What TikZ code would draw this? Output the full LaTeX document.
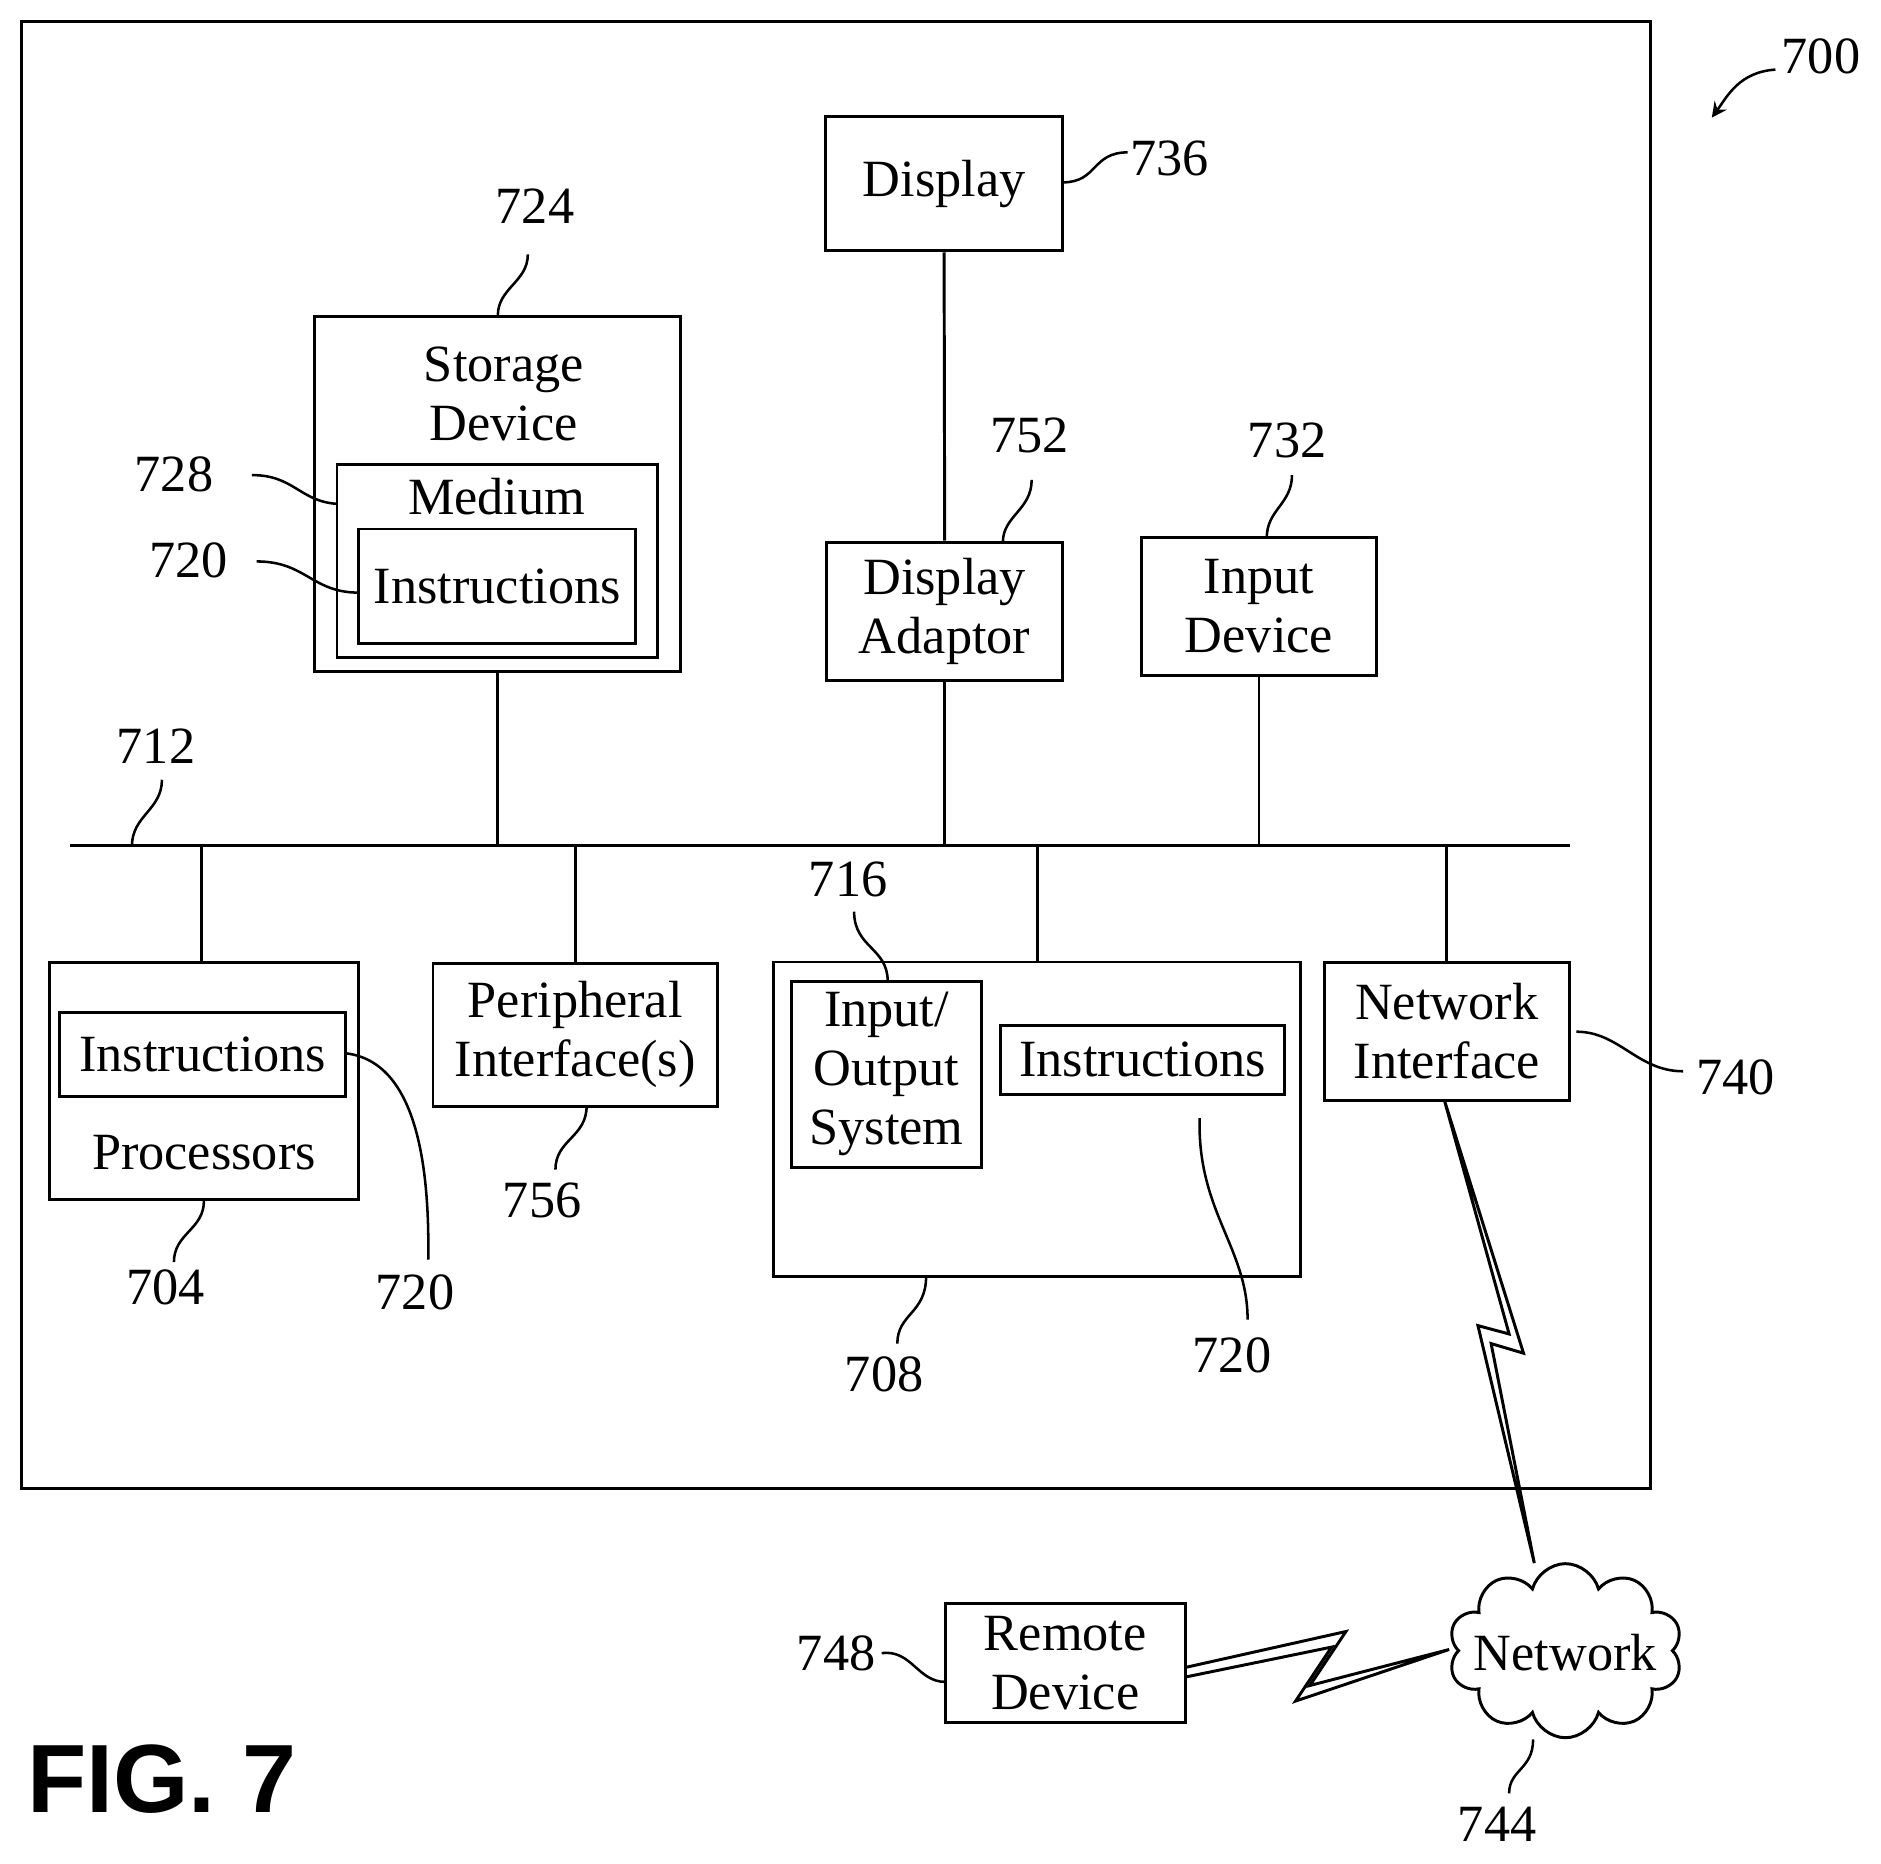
\documentclass[tikz,border=0pt]{standalone}
\usepackage{fontspec}
\setmainfont{Liberation Serif}
\usetikzlibrary{shapes.symbols}
\begin{document}
\begin{tikzpicture}[x=0.01cm,y=-0.01cm,line width=0.7pt,
  box/.style={draw,inner sep=0pt,align=center},
  txt/.style={inner sep=0pt,align=center,font=\fontsize{12.4}{14}\selectfont},
  lead/.style={line width=0.6pt}]
\useasboundingbox (0,0) rectangle (1568,1553);
\draw (18,18) rectangle (1376,1241);
% boxes
\node[box,minimum width=3.05cm,minimum height=2.96cm] (stor) at (414.5,412) {};
\node[txt] (stort) at (420,328) {Storage\\Device};
\node[box,minimum width=2.67cm,minimum height=1.61cm] (med) at (414.5,467.5) {};
\node[txt] (medt) at (414,414) {Medium};
\node[box,txt,draw,minimum width=2.31cm,minimum height=0.95cm] (ins1) at (414.5,488.5) {Instructions};
\node[box,txt,draw,minimum width=1.98cm,minimum height=1.12cm] (disp) at (787,153) {Display};
\node[box,txt,draw,minimum width=1.97cm,minimum height=1.15cm] (dad) at (787.5,509.5) {Display\\Adaptor};
\node[box,txt,draw,minimum width=1.95cm,minimum height=1.15cm] (inp) at (1049.5,505.5) {Input\\Device};
\node[box,minimum width=2.58cm,minimum height=1.98cm] (proc) at (170,901) {};
\node[box,txt,draw,minimum width=2.38cm,minimum height=0.70cm] (ins2) at (169,879) {Instructions};
\node[txt] (proct) at (170,961) {Processors};
\node[box,txt,draw,minimum width=2.37cm,minimum height=1.19cm] (per) at (479.5,862.5) {Peripheral\\Interface(s)};
\node[box,minimum width=4.39cm,minimum height=2.62cm] (mem) at (864.5,933) {};
\node[box,txt,draw,minimum width=1.58cm,minimum height=1.55cm] (ios) at (739,895.5) {Input/\\Output\\System};
\node[box,txt,draw,minimum width=2.37cm,minimum height=0.57cm] (ins3) at (952.5,883.5) {Instructions};
\node[box,txt,draw,minimum width=2.04cm,minimum height=1.15cm] (ni) at (1206,859.5) {Network\\Interface};
\node[box,txt,draw,minimum width=2.00cm,minimum height=0.99cm] (rem) at (888,1386.5) {Remote\\Device};
\node[cloud,draw,cloud puffs=10,aspect=1.35,inner sep=0pt,minimum width=1.95cm,minimum height=1.45cm] (net) at (1305,1376) {};
\node[txt] (nett) at (1305,1378) {Network};
% bus
\coordinate (busL) at (58,705); \coordinate (busR) at (1309,705);
\draw (busL) -- (busR);
\draw (stor.south) -- (stor.south |- busL);
\draw (disp.south) -- (dad.north);
\draw (dad.south) -- (dad.south |- busL);
\draw (inp.south) -- (inp.south |- busL);
\draw (168,705) -- (168,802);
\draw (per.north) -- (per.north |- busL);
\draw (mem.north) -- (mem.north |- busL);
\draw (ni.north) -- (ni.north |- busL);
% lightning
\draw (1204,917) -- (1270,1128) -- (1243,1120) -- (1279,1303) -- (1232,1105) -- (1258,1112) -- cycle;
\draw (988,1390) -- (1122,1360) -- (1092,1405) -- (1208,1375) -- (1080,1418) -- (1110,1373) -- (988,1398);
% labels
\node[txt] (l700) at (1518,47) {700};
\draw[lead,->,>=stealth] (1480,58) .. controls (1450,60) and (1440,80) .. (1427,98);
\node[txt] (l736) at (975,132) {736};
\draw[lead] (886,152) .. controls (915,152) and (910,127) .. (940,127);
\node[txt] (l724) at (446,172) {724};
\draw[lead] (440,212) .. controls (440,235) and (415,240) .. (415,263);
\node[txt] (l728) at (145,395) {728};
\draw[lead] (210,396) .. controls (245,396) and (250,418) .. (281,420);
\node[txt] (l720a) at (157,467) {720};
\draw[lead] (214,468) .. controls (255,468) and (260,494) .. (299,494);
\node[txt] (l752) at (858,363) {752};
\draw[lead] (860,400) .. controls (860,425) and (836,430) .. (836,452);
\node[txt] (l732) at (1073,367) {732};
\draw[lead] (1077,396) .. controls (1077,420) and (1056,425) .. (1056,448);
\node[txt] (l712) at (130,622) {712};
\draw[lead] (135,650) .. controls (135,675) and (110,680) .. (110,705);
\node[txt] (l704) at (138,1073) {704};
\draw[lead] (170,1001) .. controls (170,1025) and (145,1028) .. (145,1052);
\node[txt] (l720b) at (346,1077) {720};
\draw[lead] (288,878) .. controls (350,885) and (358,980) .. (357,1050);
\node[txt] (l756) at (452,1001) {756};
\draw[lead] (489,922) .. controls (489,948) and (463,950) .. (463,975);
\node[txt] (l716) at (707,733) {716};
\draw[lead] (712,760) .. controls (712,790) and (740,790) .. (740,818);
\node[txt] (l708) at (737,1146) {708};
\draw[lead] (772,1064) .. controls (772,1095) and (748,1095) .. (748,1120);
\node[txt] (l720c) at (1027,1130) {720};
\draw[lead] (1000,932) .. controls (998,1010) and (1040,1040) .. (1040,1100);
\node[txt] (l740) at (1447,898) {740};
\draw[lead] (1314,860) .. controls (1350,860) and (1365,893) .. (1403,893);
\node[txt] (l748) at (697,1378) {748};
\draw[lead] (735,1378) .. controls (760,1375) and (765,1402) .. (788,1402);
\node[txt] (l744) at (1248,1521) {744};
\draw[lead] (1278,1450) .. controls (1278,1475) and (1258,1475) .. (1258,1495);
\node[inner sep=0pt,font=\fontspec{Liberation Sans}\fontsize{23}{26}\selectfont\bfseries] (fig) at (135,1483) {FIG. 7};
\end{tikzpicture}
\end{document}
